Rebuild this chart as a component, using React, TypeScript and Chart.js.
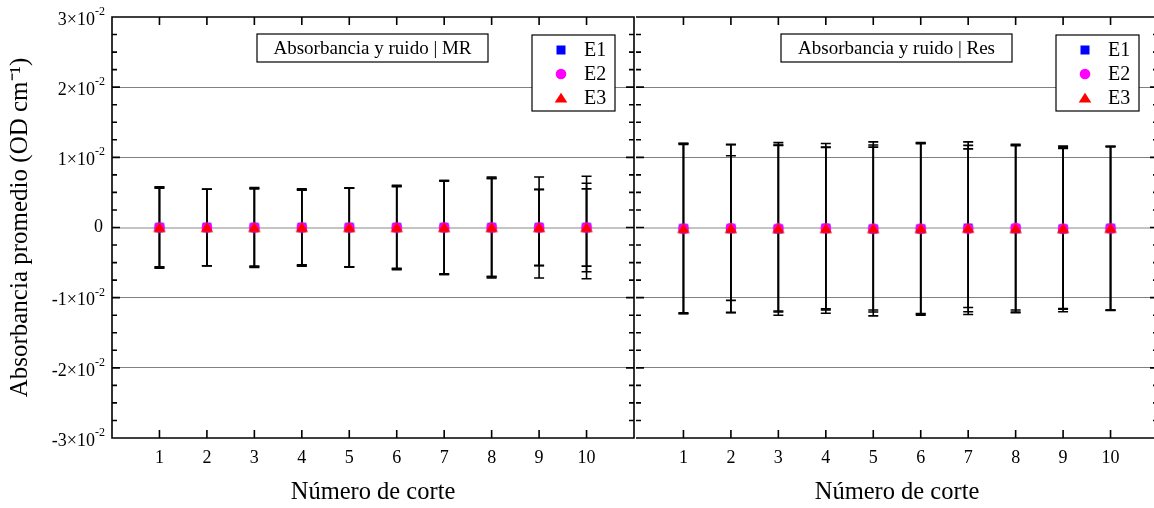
import React, { useEffect, useRef } from "react";
import { Chart, registerables } from "chart.js";
Chart.register(...registerables);

// ---------- data ----------
const categories = [1, 2, 3, 4, 5, 6, 7, 8, 9, 10];
const seriesNames = ["E1", "E2", "E3"];
const seriesColors = ["#0000ff", "#ff00ff", "#ff0000"];
const seriesShapes = ["rect", "circle", "triangle"];
const yTicks = [-0.03, -0.02, -0.01, 0, 0.01, 0.02, 0.03];
const yMinorStep = 0.0025;
const yTickExponent = "-2";
const xTitle = "Número de corte";
const yTitle = "Absorbancia promedio (OD cm⁻¹)";
const panelTitles = ["Absorbancia y ruido | MR", "Absorbancia y ruido | Res"];

// MR panel: means and symmetric errors
const mrE1 = [0, 0, 0, 0, 0, 0, 0, 0, 0, 0];
const mrE2 = [0, 0, 0, 0, 0, 0, 0, 0, 0, 0];
const mrE3 = [0, 0, 0, 0, 0, 0, 0, 0, 0, 0];
const mrE1Err = [0.0058, 0.00545, 0.0057, 0.0055, 0.00565, 0.006, 0.0067, 0.0072, 0.0072, 0.0073];
const mrE2Err = [0.0057, 0.00545, 0.0056, 0.0054, 0.0056, 0.0059, 0.0067, 0.007, 0.00545, 0.0063];
const mrE3Err = [0.0056, 0.00545, 0.0055, 0.0053, 0.0056, 0.0058, 0.0066, 0.007, 0.0054, 0.0055];

// Res panel
const resE1 = [-0.00015, -0.00015, -0.0002, -0.00012, -0.0002, -0.0002, -0.0001, -0.00015, -0.0002, -0.00012];
const resE2 = [-0.00015, -0.00008, -0.0001, -0.0001, -0.00015, -0.00015, -0.00015, -0.00005, -0.00015, -0.00012];
const resE3 = [-0.00015, -0.00015, -0.00015, -0.00015, -0.00015, -0.00015, -0.0001, -0.00015, -0.00015, -0.00012];
const resE1Err = [0.01215, 0.012, 0.0123, 0.0121, 0.0124, 0.0123, 0.0123, 0.012, 0.0118, 0.0117];
const resE2Err = [0.0121, 0.0103, 0.0118, 0.0115, 0.0119, 0.0121, 0.01185, 0.0117, 0.0114, 0.01165];
const resE3Err = [0.012, 0.01195, 0.0119, 0.0116, 0.0116, 0.0122, 0.0113, 0.0119, 0.0115, 0.01165];

const FONT = "'Liberation Serif', 'Times New Roman', serif";

function drawMarker(ctx: CanvasRenderingContext2D, shape: string, x: number, y: number) {
  ctx.beginPath();
  if (shape === "rect") {
    ctx.rect(x - 4.5, y - 4.5, 9, 9);
  } else if (shape === "circle") {
    ctx.arc(x, y, 5.3, 0, Math.PI * 2);
  } else {
    ctx.moveTo(x, y - 5.2);
    ctx.lineTo(x + 6.3, y + 4.6);
    ctx.lineTo(x - 6.3, y + 4.6);
    ctx.closePath();
  }
  ctx.fill();
}

function markerImage(shape: string, color: string): HTMLCanvasElement {
  const c = document.createElement("canvas");
  c.width = 14;
  c.height = 12;
  const ctx = c.getContext("2d") as CanvasRenderingContext2D;
  ctx.fillStyle = color;
  drawMarker(ctx, shape, 7, 6);
  return c;
}

function makePlugin(means: number[][], errs: number[][], title: string, showY: boolean) {
  return {
    id: "panelDecor",
    beforeDatasetsDraw(chart: any) {
      const ctx = chart.ctx as CanvasRenderingContext2D;
      const xs = chart.scales.x;
      const ys = chart.scales.y;
      ctx.save();
      ctx.strokeStyle = "#000";
      ctx.lineWidth = 1.6;
      errs.forEach((e, s) => {
        categories.forEach((c, i) => {
          const x = xs.getPixelForValue(c);
          const yt = ys.getPixelForValue(means[s][i] + e[i]);
          const yb = ys.getPixelForValue(means[s][i] - e[i]);
          ctx.beginPath();
          ctx.moveTo(x, yt);
          ctx.lineTo(x, yb);
          ctx.moveTo(x - 5, yt);
          ctx.lineTo(x + 5, yt);
          ctx.moveTo(x - 5, yb);
          ctx.lineTo(x + 5, yb);
          ctx.stroke();
        });
      });
      ctx.restore();
    },
    afterDraw(chart: any) {
      const ctx = chart.ctx as CanvasRenderingContext2D;
      const { left, right, top, bottom } = chart.chartArea;
      const xs = chart.scales.x;
      const ys = chart.scales.y;
      ctx.save();
      ctx.strokeStyle = "#000";
      ctx.lineWidth = 1.6;
      ctx.beginPath();
      ctx.moveTo(left, top);
      ctx.lineTo(right, top);
      ctx.lineTo(right, bottom);
      ctx.lineTo(left, bottom);
      if (showY) ctx.closePath();
      ctx.stroke();
      ctx.beginPath();
      categories.forEach((c) => {
        const x = xs.getPixelForValue(c);
        ctx.moveTo(x, bottom);
        ctx.lineTo(x, bottom - 8);
        ctx.moveTo(x, top);
        ctx.lineTo(x, top + 8);
      });
      const n = Math.round((yTicks[yTicks.length - 1] - yTicks[0]) / yMinorStep);
      for (let k = 1; k < n; k++) {
        const v = yTicks[0] + k * yMinorStep;
        const y = ys.getPixelForValue(v);
        const len = k % 4 === 0 ? 8 : 5;
        ctx.moveTo(left, y);
        ctx.lineTo(left + len, y);
        ctx.moveTo(right, y);
        ctx.lineTo(right - len, y);
      }
      ctx.stroke();

      if (showY) {
        ctx.fillStyle = "#000";
        const labelRight = 105;
        yTicks.forEach((v) => {
          const y = ys.getPixelForValue(v);
          const m = Math.round(v * 100);
          ctx.textAlign = "right";
          ctx.textBaseline = "middle";
          if (m === 0) {
            ctx.font = `18px ${FONT}`;
            ctx.fillText("0", labelRight - 2, y);
            return;
          }
          ctx.font = `12px ${FONT}`;
          const supW = ctx.measureText(yTickExponent).width;
          ctx.fillText(yTickExponent, labelRight, y - 5);
          ctx.font = `18px ${FONT}`;
          ctx.fillText(`${m}×10`, labelRight - supW, y + 3);
        });
      }

      const tbL = left + 145;
      const tbT = 34;
      ctx.fillStyle = "#fff";
      ctx.fillRect(tbL, tbT, 231, 28);
      ctx.lineWidth = 1.2;
      ctx.strokeRect(tbL, tbT, 231, 28);
      ctx.fillStyle = "#000";
      ctx.font = `19px ${FONT}`;
      ctx.textAlign = "center";
      ctx.textBaseline = "middle";
      ctx.fillText(title, tbL + 115.5, tbT + 15);

      const lgL = right - 102;
      const lgT = 35;
      ctx.fillStyle = "#fff";
      ctx.fillRect(lgL, lgT, 83, 76);
      ctx.strokeRect(lgL, lgT, 83, 76);
      seriesNames.forEach((name, s) => {
        const y = lgT + 15 + s * 24;
        ctx.fillStyle = seriesColors[s];
        drawMarker(ctx, seriesShapes[s], lgL + 29, y);
        ctx.fillStyle = "#000";
        ctx.font = `20px ${FONT}`;
        ctx.textAlign = "left";
        ctx.textBaseline = "middle";
        ctx.fillText(name, lgL + 52, y + 1);
      });
      ctx.restore();
    },
  };
}

function buildConfig(
  means: number[][],
  errs: number[][],
  title: string,
  showY: boolean,
  yWidth: number,
  padRight: number
): any {
  const datasets = means.map((m, s) => ({
    label: seriesNames[s],
    data: categories.map((c, i) => ({ x: c, y: m[i] })),
    pointStyle: markerImage(seriesShapes[s], seriesColors[s]),
    pointRadius: 6,
    pointHoverRadius: 6,
    backgroundColor: seriesColors[s],
    borderColor: seriesColors[s],
    borderWidth: 0,
    showLine: false,
    order: 2 - s,
  }));
  const isZero = (v: number) => Math.abs(v) < 1e-9;
  const isEdge = (v: number) => Math.abs(Math.abs(v) - 0.03) < 1e-9;
  return {
    type: "scatter",
    data: { datasets },
    plugins: [makePlugin(means, errs, title, showY)],
    options: {
      responsive: false,
      animation: false,
      events: [],
      layout: { padding: { top: 17, left: 0, right: padRight, bottom: 0 } },
      plugins: { legend: { display: false }, tooltip: { enabled: false }, title: { display: false } },
      scales: {
        x: {
          type: "linear",
          min: 0,
          max: 11,
          afterBuildTicks: (scale: any) => {
            scale.ticks = categories.map((v) => ({ value: v }));
          },
          afterFit: (scale: any) => {
            scale.height = 70;
          },
          grid: { display: false, drawTicks: false },
          border: { display: false },
          ticks: {
            color: "#000",
            font: { family: FONT, size: 18 },
            padding: 9,
            maxRotation: 0,
            autoSkip: false,
            callback: (v: any) => String(v),
          },
          title: {
            display: true,
            text: xTitle,
            color: "#000",
            font: { family: FONT, size: 24.5 },
            padding: { top: 0, bottom: 1 },
          },
        },
        y: {
          type: "linear",
          min: yTicks[0],
          max: yTicks[yTicks.length - 1],
          afterBuildTicks: (scale: any) => {
            scale.ticks = yTicks.map((v) => ({ value: v }));
          },
          afterFit: (scale: any) => {
            scale.width = yWidth;
          },
          ticks: { display: false },
          border: { display: false },
          grid: {
            drawTicks: false,
            color: (c: any) => {
              const v = c.tick ? c.tick.value : 1;
              if (isEdge(v)) return "rgba(0,0,0,0)";
              return isZero(v) ? "#c4c4c4" : "#808080";
            },
            lineWidth: (c: any) => (c.tick && isZero(c.tick.value) ? 2 : 1),
          },
          title: {
            display: showY,
            text: yTitle,
            color: "#000",
            font: { family: FONT, size: 25 },
            padding: { top: 5, bottom: 0 },
          },
        },
      },
    },
  };
}

export default function App() {
  const leftRef = useRef<HTMLCanvasElement>(null);
  const rightRef = useRef<HTMLCanvasElement>(null);

  useEffect(() => {
    const c1 = new Chart(
      leftRef.current as HTMLCanvasElement,
      buildConfig([mrE1, mrE2, mrE3], [mrE1Err, mrE2Err, mrE3Err], panelTitles[0], true, 112, 5)
    );
    const c2 = new Chart(
      rightRef.current as HTMLCanvasElement,
      buildConfig([resE1, resE2, resE3], [resE1Err, resE2Err, resE3Err], panelTitles[1], false, 5, 12)
    );
    return () => {
      c1.destroy();
      c2.destroy();
    };
  }, []);

  return (
    <div
      style={{
        position: "fixed",
        left: 0,
        top: 0,
        width: 1154,
        height: 508,
        overflow: "hidden",
        background: "#fff",
      }}
    >
      <canvas ref={leftRef} width={640} height={508} style={{ position: "absolute", left: 0, top: 0 }} />
      <canvas ref={rightRef} width={540} height={508} style={{ position: "absolute", left: 630, top: 0 }} />
    </div>
  );
}
